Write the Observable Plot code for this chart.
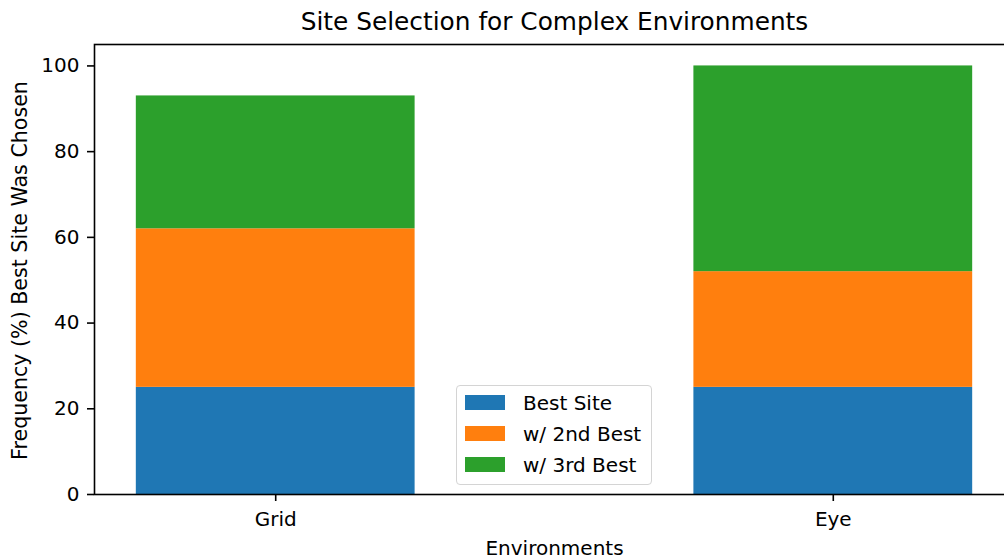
<!DOCTYPE html>
<html><head><meta charset="utf-8">
<script src="https://cdn.jsdelivr.net/npm/d3@7"></script>
<script src="https://cdn.jsdelivr.net/npm/@observablehq/plot@0.6"></script>
<style>
html,body{margin:0;padding:0;background:#fff;overflow:hidden;}
#wrap{position:relative;width:1004px;height:560px;font-family:"DejaVu Sans",sans-serif;}
#wrap svg{overflow:hidden;display:block;}
.legend{position:absolute;left:456px;top:385px;width:194px;height:98px;border:1px solid #d4d4d4;border-radius:4px;background:rgba(255,255,255,0.8);box-sizing:content-box;}
.patch{position:absolute;width:40px;height:15px;}
.ltext{position:absolute;font-size:20px;line-height:20px;color:#000;white-space:nowrap;}
</style>
</head><body>
<div id="wrap"></div>
<script>
const environments = ["Grid", "Eye"];
const seriesNames = ["Best Site", "w/ 2nd Best", "w/ 3rd Best"];
const bestSite = [25, 25];
const secondBest = [37, 27];
const thirdBest = [31, 48];
const colors = ["#1f77b4", "#ff7f0e", "#2ca02c"];
const yTicks = [0, 20, 40, 60, 80, 100];
const titleText = "Site Selection for Complex Environments";
const xLabel = "Environments";
const yLabel = "Frequency (%) Best Site Was Chosen";

const seriesValues = [bestSite, secondBest, thirdBest];
const data = [];
environments.forEach((env, i) => {
  seriesNames.forEach((s, j) => data.push({env, series: s, value: seriesValues[j][i]}));
});

const chart = Plot.plot({
  width: 1004,
  height: 560,
  marginLeft: 94,
  marginTop: 44,
  marginBottom: 66,
  marginRight: -10,
  style: {fontFamily: "DejaVu Sans, sans-serif", background: "#fff", color: "#000", overflow: "hidden"},
  x: {domain: environments, paddingInner: 0.5, paddingOuter: 0.075, align: 0.5, round: false},
  y: {domain: [0, 105]},
  color: {domain: seriesNames, range: colors},
  marks: [
    Plot.barY(data, {x: "env", y: "value", fill: "series"}),
    Plot.frame({stroke: "#000", strokeWidth: 1.6}),
    Plot.axisY({ticks: yTicks, tickSize: 7, tickPadding: 8, fontSize: 20, label: null, strokeWidth: 1.6}),
    Plot.axisX({tickSize: 7, tickPadding: 10, fontSize: 20, label: null, strokeWidth: 1.6}),
    Plot.text([titleText], {frameAnchor: "top", lineAnchor: "middle", dy: -22, fontSize: 24.8, fill: "#000"}),
    Plot.text([xLabel], {frameAnchor: "bottom", lineAnchor: "middle", dy: 54, fontSize: 20, fill: "#000"}),
    Plot.text([yLabel], {frameAnchor: "left", textAnchor: "middle", lineAnchor: "middle", dx: -74, dy: 1, rotate: -90, fontSize: 20.6, fill: "#000"})
  ]
});
const wrap = document.getElementById("wrap");
wrap.appendChild(chart);

const legend = document.createElement("div");
legend.className = "legend";
wrap.appendChild(legend);
seriesNames.forEach((s, j) => {
  const p = document.createElement("div");
  p.className = "patch";
  p.style.left = "465px";
  p.style.top = (395 + j * 31) + "px";
  p.style.background = colors[j];
  wrap.appendChild(p);
  const t = document.createElement("div");
  t.className = "ltext";
  t.style.left = "523px";
  t.style.top = (393 + j * 31) + "px";
  t.textContent = s;
  wrap.appendChild(t);
});
</script>
</body></html>
